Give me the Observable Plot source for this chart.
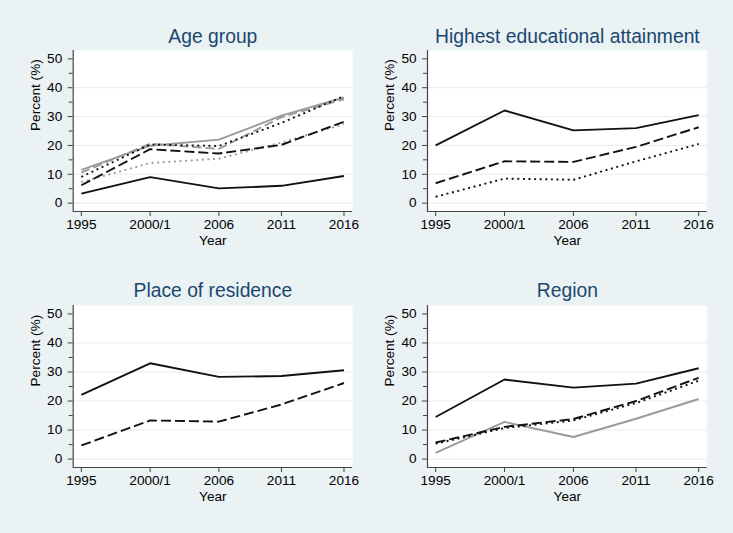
<!DOCTYPE html>
<html><head><meta charset="utf-8">
<script src="https://cdn.jsdelivr.net/npm/d3@7"></script>
<script src="https://cdn.jsdelivr.net/npm/@observablehq/plot@0.6"></script>
<style>
body{margin:0;background:#eaf2f3;}
#wrap{position:relative;width:733px;height:533px;background:#eaf2f3;overflow:hidden;}
#wrap > svg{position:absolute;}
</style></head><body><div id="wrap"></div>
<script>
// ---- data ----
const years = [1995, 2000.5, 2006, 2011, 2016];
const yearLabels = ["1995", "2000/1", "2006", "2011", "2016"];
const yMajorTicks = [0, 10, 20, 30, 40, 50];
const yMinorTicks = [5, 15, 25, 35, 45];

const panelTitles = ["Age group", "Highest educational attainment", "Place of residence", "Region"];

// Age group
const ageSolidBlack = [3.3, 9.0, 5.1, 6.0, 9.4];
const ageDashBlack  = [6.2, 18.7, 17.2, 20.2, 28.2];
const ageDotBlack   = [9.1, 20.3, 19.8, 27.8, 37.1];
const ageSolidGray  = [11.5, 19.9, 22.0, 30.3, 36.6];
const ageDashGray   = [10.6, 20.6, 18.8, 29.8, 36.0];
const ageDotGray    = [7.3, 13.9, 15.4, 21.0, 27.4];

// Highest educational attainment
const eduSolid = [20.0, 32.1, 25.2, 26.0, 30.5];
const eduDash  = [6.9, 14.5, 14.3, 19.5, 26.3];
const eduDot   = [2.2, 8.5, 8.1, 14.5, 20.5];

// Place of residence
const resSolid = [22.1, 33.0, 28.3, 28.6, 30.6];
const resDash  = [4.7, 13.3, 12.9, 18.8, 26.2];

// Region
const regSolidBlack = [14.5, 27.4, 24.6, 26.0, 31.3];
const regDashBlack  = [5.7, 11.1, 13.8, 20.0, 28.0];
const regDotBlack   = [5.3, 10.7, 13.3, 19.3, 27.0];
const regSolidGray  = [2.1, 12.8, 7.6, 13.9, 20.7];

// ---- styles ----
const SOLID = null, DASH = "10,4", DOT = "2,3.6", GDASH = "9,4";
const BLACK = "#111", GRAY = "#9a9a9a";

const panels = [
  {title: panelTitles[0], left: 0, top: 0, width: 366, height: 266, mL: 72.7, mR: 14, mT: 50, mB: 55, titleDy: -7.3,
   series: [
     {values: ageSolidGray, stroke: GRAY, dash: SOLID},
     {values: ageDashGray, stroke: GRAY, dash: GDASH},
     {values: ageDotGray, stroke: GRAY, dash: DOT},
     {values: ageDotBlack, stroke: BLACK, dash: DOT},
     {values: ageDashBlack, stroke: BLACK, dash: DASH},
     {values: ageSolidBlack, stroke: BLACK, dash: SOLID}
   ]},
  {title: panelTitles[1], left: 366, top: 0, width: 367, height: 266, mL: 61, mR: 26.3, mT: 50, mB: 55, titleDy: -7.3,
   series: [
     {values: eduSolid, stroke: BLACK, dash: SOLID},
     {values: eduDash, stroke: BLACK, dash: DASH},
     {values: eduDot, stroke: BLACK, dash: DOT}
   ]},
  {title: panelTitles[2], left: 0, top: 266, width: 366, height: 267, mL: 72.7, mR: 14, mT: 39, mB: 66, titleDy: -8.3,
   series: [
     {values: resSolid, stroke: BLACK, dash: SOLID},
     {values: resDash, stroke: BLACK, dash: DASH}
   ]},
  {title: panelTitles[3], left: 366, top: 266, width: 367, height: 267, mL: 61, mR: 26.3, mT: 39, mB: 66, titleDy: -8.3,
   series: [
     {values: regSolidGray, stroke: GRAY, dash: SOLID},
     {values: regDotBlack, stroke: BLACK, dash: DOT},
     {values: regDashBlack, stroke: BLACK, dash: DASH},
     {values: regSolidBlack, stroke: BLACK, dash: SOLID}
   ]}
];

const xDomain = [1994.35, 2016.68];
const yDomain = [-2.9, 52.9];
const FONT = "'Liberation Sans', Arial, Helvetica, sans-serif";
const FS = 13.6;

const wrap = document.getElementById("wrap");
for (const p of panels) {
  const lineMarks = p.series.map(s => Plot.line(
    years.map((yr, i) => ({year: yr, value: s.values[i]})),
    {x: "year", y: "value", stroke: s.stroke, strokeWidth: 1.9, strokeDasharray: s.dash ?? undefined,
     strokeLinejoin: "round", strokeLinecap: "butt"}
  ));
  const svg = Plot.plot({
    width: p.width, height: p.height,
    marginLeft: p.mL, marginRight: p.mR, marginTop: p.mT, marginBottom: p.mB,
    style: {background: "transparent", fontFamily: FONT, fontSize: FS + "px", color: "#000", overflow: "visible"},
    x: {type: "linear", domain: xDomain, axis: null},
    y: {type: "linear", domain: yDomain, axis: null},
    marks: [
      Plot.frame({fill: "white", stroke: null}),
      Plot.gridY([0, 10, 20, 30, 40], {stroke: "#e4edf0", strokeOpacity: 1, strokeWidth: 1}),
      ...lineMarks,
      Plot.ruleX([xDomain[0]], {stroke: "#444", strokeWidth: 1.2}),
      Plot.ruleY([yDomain[0]], {stroke: "#444", strokeWidth: 1.2}),
      Plot.axisY({ticks: yMajorTicks, tickSize: 5, tickPadding: 6, fontSize: FS, label: null, stroke: "#444", fill: "#000"}),
      Plot.axisY({ticks: yMinorTicks, tickSize: 4, tickFormat: () => "", label: null, stroke: "#444"}),
      Plot.axisX({ticks: years, tickFormat: d => yearLabels[years.indexOf(d)], tickSize: 5, tickPadding: 3,
                  fontSize: FS, label: null, stroke: "#444", fill: "#000"}),
      Plot.text(["Year"], {text: d => d, frameAnchor: "bottom", dy: 29.5, lineAnchor: "middle", fontSize: FS, fill: "#000"}),
      Plot.text(["Percent (%)"], {text: d => d, frameAnchor: "left", dx: -37.7, rotate: -90, lineAnchor: "middle",
                                  fontSize: FS, fill: "#000"}),
      Plot.text([p.title], {text: d => d, frameAnchor: "top", dy: p.titleDy, lineAnchor: "bottom",
                            fontSize: 19.3, fill: "#1a476f"})
    ]
  });
  svg.style.left = p.left + "px";
  svg.style.top = p.top + "px";
  wrap.appendChild(svg);
}
</script></body></html>
